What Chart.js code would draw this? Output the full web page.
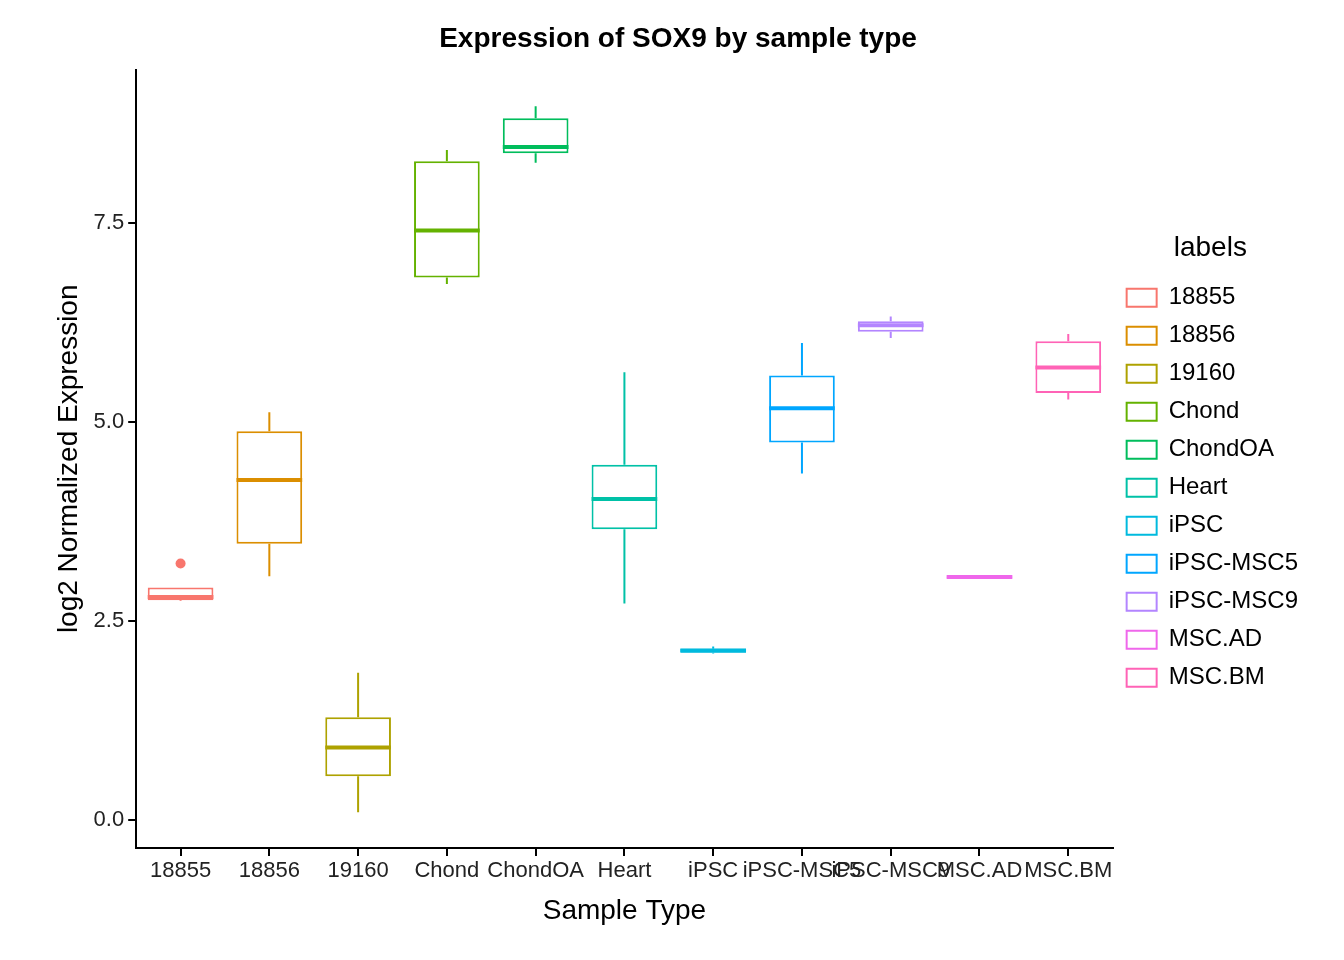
<!DOCTYPE html>
<html>
<head>
<meta charset="utf-8">
<script src="https://cdn.jsdelivr.net/npm/chart.js@4.4.1/dist/chart.umd.min.js"></script>
<style>
  body { margin: 0; background: #fff; }
  #wrap { width: 1344px; height: 960px; }
</style>
</head>
<body>
<div id="wrap"><canvas id="boxChart" width="1344" height="960"></canvas></div>
<script>
// box plot values
var categories = ['18855', '18856', '19160', 'Chond', 'ChondOA', 'Heart', 'iPSC', 'iPSC-MSC5', 'iPSC-MSC9', 'MSC.AD', 'MSC.BM'];
var whiskerLow  = [2.75, 3.06, 0.10, 6.73, 8.25, 2.72, 2.09, 4.35, 6.05, 3.03, 5.28];
var q1          = [2.76, 3.47, 0.55, 6.81, 8.37, 3.65, 2.10, 4.74, 6.13, 3.04, 5.36];
var median      = [2.80, 4.27, 0.91, 7.40, 8.45, 4.03, 2.13, 5.17, 6.21, 3.05, 5.68];
var q3          = [2.92, 4.88, 1.29, 8.27, 8.81, 4.46, 2.15, 5.58, 6.26, 3.06, 6.01];
var whiskerHigh = [2.92, 5.12, 1.85, 8.41, 8.96, 5.62, 2.18, 5.99, 6.32, 3.07, 6.10];
var outliers    = [[3.22], [], [], [], [], [], [], [], [], [], []];
var yTicks = [0, 2.5, 5, 7.5];
var colors = ['#F8766D', '#DB8E00', '#AEA200', '#64B200', '#00BD5C', '#00C1A7', '#00BADE', '#00A6FF', '#B385FF', '#EF67EB', '#FF63B6'];

var fontFamily = '"Liberation Sans", Arial, sans-serif';

// draws whiskers, medians and outliers on top of the floating bars
var boxPlugin = {
    id: 'boxParts',
    afterDatasetsDraw: function(chart) {
        var ctx = chart.ctx;
        var y = chart.scales.y;
        var meta = chart.getDatasetMeta(0);
        meta.data.forEach(function(bar, i) {
            var half = bar.width / 2;
            ctx.save();
            ctx.strokeStyle = colors[i];
            ctx.lineWidth = 2;
            ctx.beginPath();
            ctx.moveTo(bar.x, y.getPixelForValue(whiskerLow[i]));
            ctx.lineTo(bar.x, y.getPixelForValue(q1[i]));
            ctx.moveTo(bar.x, y.getPixelForValue(q3[i]));
            ctx.lineTo(bar.x, y.getPixelForValue(whiskerHigh[i]));
            ctx.stroke();
            ctx.lineWidth = 4;
            ctx.beginPath();
            ctx.moveTo(bar.x - half, y.getPixelForValue(median[i]));
            ctx.lineTo(bar.x + half, y.getPixelForValue(median[i]));
            ctx.stroke();
            ctx.fillStyle = colors[i];
            outliers[i].forEach(function(v) {
                ctx.beginPath();
                ctx.arc(bar.x, y.getPixelForValue(v), 5, 0, Math.PI * 2);
                ctx.fill();
            });
            ctx.restore();
        });
    }
};

var ctx = document.getElementById('boxChart').getContext('2d');
var chart = new Chart(ctx, {
    type: 'bar',
    data: {
        labels: categories,
        datasets: [{
            data: categories.map(function(c, i) { return [q1[i], q3[i]]; }),
            backgroundColor: '#ffffff',
            borderColor: colors,
            borderWidth: 2,
            borderSkipped: false,
            barPercentage: 0.74,
            categoryPercentage: 1
        }]
    },
    options: {
        responsive: false,
        animation: false,
        layout: { padding: { top: 6, right: 36, left: 48, bottom: 28 } },
        plugins: {
            title: {
                display: true,
                text: 'Expression of SOX9 by sample type',
                font: { family: fontFamily, size: 28, weight: 'bold' },
                color: '#000',
                padding: { top: 16, bottom: 14 }
            },
            legend: {
                position: 'right',
                align: 'center',
                title: { display: true, text: 'labels', color: '#000', font: { family: fontFamily, size: 28 }, padding: { top: 0, bottom: 4 } },
                labels: {
                    color: '#000',
                    font: { family: fontFamily, size: 24 },
                    boxWidth: 30,
                    boxHeight: 18,
                    padding: 14,
                    generateLabels: function() {
                        return categories.map(function(c, i) {
                            return { text: c, fillStyle: '#fff', strokeStyle: colors[i], lineWidth: 2, fontColor: '#000' };
                        });
                    }
                },
                onClick: null
            },
            tooltip: { enabled: false }
        },
        scales: {
            x: {
                offset: true,
                grid: { display: true, offset: false, drawOnChartArea: false, color: '#000', tickLength: 8, lineWidth: 2 },
                border: { color: '#000', width: 2 },
                ticks: { color: '#222', font: { family: fontFamily, size: 22 }, maxRotation: 0, autoSkip: false, padding: 2 },
                title: { display: true, text: 'Sample Type', color: '#000', font: { family: fontFamily, size: 28 }, padding: { top: 8 } }
            },
            y: {
                min: -0.35,
                max: 9.42,
                afterBuildTicks: function(axis) {
                    axis.ticks = yTicks.map(function(v) { return { value: v }; });
                },
                grid: { display: true, drawOnChartArea: false, color: '#000', tickLength: 8, lineWidth: 2 },
                border: { color: '#000', width: 2 },
                ticks: {
                    color: '#222',
                    font: { family: fontFamily, size: 22 },
                    padding: 4,
                    callback: function(v) { return v.toFixed(1); }
                },
                title: { display: true, text: 'log2 Normalized Expression', color: '#000', font: { family: fontFamily, size: 28 } }
            }
        }
    },
    plugins: [boxPlugin]
});
</script>
</body>
</html>
